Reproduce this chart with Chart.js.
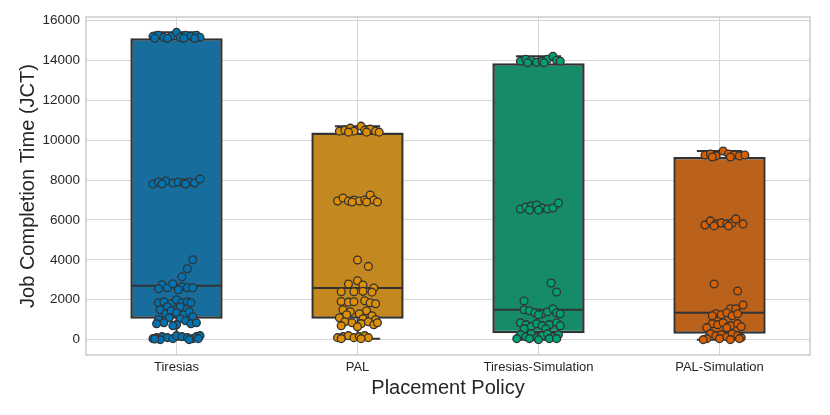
<!DOCTYPE html>
<html>
<head>
<meta charset="utf-8">
<script src="https://cdn.jsdelivr.net/npm/chart.js@4/dist/chart.umd.min.js"></script>
<style>
  body { margin: 0; background: #fff; }
  #wrap { width: 830px; height: 415px; }
</style>
</head>
<body>
<div id="wrap"><canvas id="chart" width="830" height="415"></canvas></div>
<script>
// categories and box statistics
const categories = ['Tiresias', 'PAL', 'Tiresias-Simulation', 'PAL-Simulation'];
const q1 = [1050, 1050, 320, 300];
const median = [2700, 2590, 1500, 1350];
const q3 = [15100, 10380, 13850, 9150];
const whiskerLow = [0, 50, 0, 0];
const whiskerHigh = [15400, 10700, 14200, 9450];
const yTicks = [0, 2000, 4000, 6000, 8000, 10000, 12000, 14000, 16000];

// individual jobs (JCT) and their horizontal jitter, per policy
const tiresiasJCT = [15200, 15250, 15150, 15200, 15400, 15150, 15250, 15200, 15250, 15150, 15100, 15100, 15100, 15100,
  7800, 7900, 7950, 7850, 7900, 7850, 7900, 7850, 8050, 7800, 7800,
  4000, 3550, 3150, 2750, 2600, 2800, 2650, 2600, 2600, 2550, 2500,
  1850, 1900, 1800, 2000, 1850, 1900, 1850, 1650, 1650,
  1500, 1300, 1450, 1350, 1250, 1400, 1150, 1000, 1100, 1050, 950, 850, 800, 850, 800, 750, 700,
  50, 100, 150, 100, 50, 200, 150, 100, 50, 150, 200, 0, 0, 50, 30];
const tiresiasJitter = [-0.13, -0.10, -0.07, -0.03, 0.00, 0.02, 0.05, 0.08, 0.11, 0.13, -0.12, 0.10, -0.05, 0.04,
  -0.13, -0.10, -0.06, -0.02, 0.01, 0.04, 0.07, 0.10, 0.13, -0.08, 0.05,
  0.09, 0.06, 0.03, -0.08, -0.05, -0.02, 0.03, 0.06, 0.09, -0.10, 0.01,
  -0.10, -0.07, -0.03, 0.00, 0.03, 0.06, 0.08, -0.05, 0.02,
  -0.09, -0.06, -0.03, 0.00, 0.04, 0.07, 0.09, -0.10, -0.04, 0.02, 0.05, -0.07, 0.08, 0.11, -0.11, 0.00, -0.02,
  -0.13, -0.11, -0.08, -0.05, -0.02, 0.00, 0.03, 0.06, 0.09, 0.11, 0.13, -0.09, 0.07, 0.12, -0.12];

const palJCT = [10450, 10500, 10600, 10450, 10700, 10500, 10550, 10450, 10400, 10400, 10400,
  6950, 7100, 6950, 7000, 6950, 7000, 7250, 7000, 6900, 6900, 6900,
  3990, 3670, 2950, 2790, 2740, 2590, 2400, 2400, 2420, 2380,
  1910, 1880, 1900, 1950, 1850, 1800,
  1500, 1400, 1300, 1450, 1200, 1100, 1250, 1050, 1000,
  900, 850, 800, 900, 750, 700, 650, 850,
  100, 150, 200, 100, 150, 200, 100, 50, 50];
const palJitter = [-0.10, -0.07, -0.04, -0.02, 0.02, 0.04, 0.07, 0.10, 0.12, -0.05, 0.05,
  -0.11, -0.08, -0.05, -0.02, 0.01, 0.04, 0.07, 0.09, 0.11, -0.03, 0.05,
  0.00, 0.06, 0.00, -0.05, 0.03, 0.09, -0.09, -0.02, 0.03, 0.08,
  -0.09, -0.05, -0.02, 0.04, 0.07, 0.10,
  -0.08, -0.04, 0.01, 0.05, 0.08, -0.10, -0.06, 0.03, 0.10,
  -0.07, -0.03, 0.02, 0.06, 0.09, -0.09, 0.00, 0.11,
  -0.11, -0.08, -0.05, -0.02, 0.01, 0.04, 0.06, -0.09, 0.02];

const tiresiasSimJCT = [13950, 14050, 14000, 13900, 13950, 14050, 14200, 14000, 13950, 13880, 13880,
  6550, 6650, 6700, 6750, 6600, 6550, 6600, 6850, 6500, 6500,
  2840, 2390, 1940, 1500, 1450, 1350, 1300, 1400, 1550, 1350, 1300, 1250,
  850, 750, 650, 800, 700, 750, 850, 700, 550, 550,
  250, 150, 300, 100, 200, 300, 150, 250, 50, 0, 50, 50, 50];
const tiresiasSimJitter = [-0.10, -0.07, -0.04, -0.01, 0.02, 0.05, 0.08, 0.10, 0.12, -0.06, 0.03,
  -0.10, -0.07, -0.04, -0.01, 0.02, 0.05, 0.08, 0.11, -0.05, 0.00,
  0.07, 0.10, -0.08, -0.08, -0.05, -0.02, 0.02, 0.05, 0.08, 0.10, 0.12, 0.00,
  -0.10, -0.07, -0.04, -0.01, 0.02, 0.06, 0.10, 0.12, -0.08, 0.04,
  -0.10, -0.07, -0.04, -0.01, 0.02, 0.05, 0.08, 0.11, -0.12, 0.00, 0.06, 0.10, -0.05];

const palSimJCT = [9250, 9300, 9200, 9450, 9300, 9250, 9200, 9250, 9150, 9150,
  5750, 5950, 5800, 5850, 5800, 5850, 6050, 5800, 5700, 5700,
  2790, 2440, 1740, 1550, 1550, 1300, 1250, 1350, 1200, 1300, 1200,
  800, 750, 850, 700, 800, 650, 600, 600,
  300, 200, 250, 150, 300, 200, 100, 50, 50, 0, 50, 0];
const palSimJitter = [-0.08, -0.05, -0.02, 0.02, 0.05, 0.08, 0.11, 0.14, -0.04, 0.06,
  -0.08, -0.05, -0.02, 0.01, 0.04, 0.07, 0.09, 0.13, -0.03, 0.05,
  -0.03, 0.10, 0.13, 0.06, 0.09, -0.02, 0.01, 0.04, 0.07, 0.10, -0.04,
  -0.04, -0.01, 0.02, 0.06, 0.10, 0.12, -0.07, 0.04,
  -0.05, -0.02, 0.01, 0.04, 0.07, 0.10, 0.12, -0.07, 0.00, 0.06, 0.11, -0.09];

const jobs = [tiresiasJCT, palJCT, tiresiasSimJCT, palSimJCT];
const jitter = [tiresiasJitter, palJitter, tiresiasSimJitter, palSimJitter];

const pointColors = ['#0173b2', '#de8f05', '#029e73', '#d55e00'];
const boxColors = ['#176e9c', '#c38820', '#168b6a', '#ba611b'];
const edge = '#333333';
const ink = '#262626';

const datasets = [];

// stripplot points
jobs.forEach((vals, i) => {
  datasets.push({
    type: 'scatter',
    order: 0,
    data: vals.map((v, j) => ({ x: i + jitter[i][j], y: v })),
    backgroundColor: pointColors[i],
    borderColor: edge,
    borderWidth: 1.3,
    pointRadius: 3.9
  });
});

// medians, whiskers and caps
function segment(pts) {
  datasets.push({
    type: 'line',
    order: 1,
    data: pts,
    borderColor: edge,
    borderWidth: 2,
    pointRadius: 0,
    fill: false
  });
}
categories.forEach((c, i) => {
  segment([{ x: i - 0.25, y: median[i] }, { x: i + 0.25, y: median[i] }]);
  segment([{ x: i, y: q3[i] }, { x: i, y: whiskerHigh[i] }]);
  segment([{ x: i - 0.125, y: whiskerHigh[i] }, { x: i + 0.125, y: whiskerHigh[i] }]);
  segment([{ x: i, y: q1[i] }, { x: i, y: whiskerLow[i] }]);
  segment([{ x: i - 0.125, y: whiskerLow[i] }, { x: i + 0.125, y: whiskerLow[i] }]);
});

// boxes
datasets.push({
  type: 'bar',
  order: 2,
  data: categories.map((c, i) => ({ x: i, y: [q1[i], q3[i]] })),
  backgroundColor: boxColors,
  borderColor: edge,
  borderWidth: 2.5,
  borderSkipped: false,
  barPercentage: 0.51,
  categoryPercentage: 1
});

// light frame around the plot
const frame = {
  id: 'frame',
  afterDraw(chart) {
    const a = chart.chartArea, ctx = chart.ctx;
    ctx.save();
    ctx.strokeStyle = '#cccccc';
    ctx.lineWidth = 1.5;
    ctx.strokeRect(a.left, a.top, a.right - a.left, a.bottom - a.top);
    ctx.restore();
  }
};

Chart.defaults.font.family = '"Liberation Sans", Arial, sans-serif';
Chart.defaults.color = ink;

new Chart(document.getElementById('chart').getContext('2d'), {
  data: { datasets: datasets },
  plugins: [frame],
  options: {
    responsive: false,
    animation: false,
    layout: { padding: { left: 0, right: 20, top: 17, bottom: 0 } },
    plugins: { legend: { display: false }, tooltip: { enabled: false } },
    scales: {
      x: {
        type: 'linear',
        offset: false,
        min: -0.5,
        max: 3.5,
        afterBuildTicks: s => { s.ticks = categories.map((c, i) => ({ value: i })); },
        afterFit: s => { s.height = 60; },
        ticks: {
          callback: v => categories[v],
          font: { size: 13 },
          color: ink,
          padding: 5,
          maxRotation: 0
        },
        grid: { color: '#d6d6d6', lineWidth: 1, drawTicks: false, offset: false },
        border: { display: false },
        title: { display: true, text: 'Placement Policy', font: { size: 20 }, color: ink, padding: { top: 0, bottom: 15 } }
      },
      y: {
        min: -770,
        max: 16170,
        afterBuildTicks: s => { s.ticks = yTicks.map(v => ({ value: v })); },
        afterFit: s => { s.width = 86; },
        ticks: { font: { size: 13.5 }, color: ink, padding: 6, callback: v => String(v) },
        grid: { color: '#d6d6d6', lineWidth: 1, drawTicks: false },
        border: { display: false },
        title: { display: true, text: 'Job Completion Time (JCT)', font: { size: 20 }, color: ink, padding: { top: 16, bottom: 0 } }
      }
    }
  }
});
</script>
</body>
</html>
